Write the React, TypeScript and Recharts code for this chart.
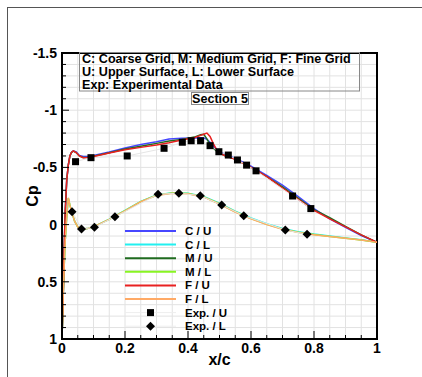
import React from "react";
import { LineChart, Line, XAxis, YAxis, CartesianGrid, ReferenceArea } from "recharts";

// x/c stations
const upperX = [0, 0.004, 0.007, 0.01, 0.015, 0.02, 0.025, 0.03, 0.036, 0.045, 0.055, 0.067, 0.08, 0.1, 0.15, 0.2, 0.25, 0.3, 0.34, 0.38, 0.42, 0.44, 0.45, 0.46, 0.47, 0.48, 0.49, 0.5, 0.52, 0.55, 0.6, 0.65, 0.7, 0.75, 0.8, 0.85, 0.9, 0.95, 1];
const coarseUpper = [1.0, 0.6, 0.22, -0.1, -0.39, -0.52, -0.6, -0.63, -0.645, -0.635, -0.605, -0.595, -0.595, -0.605, -0.635, -0.67, -0.7, -0.725, -0.748, -0.755, -0.758, -0.76, -0.758, -0.745, -0.72, -0.69, -0.66, -0.64, -0.61, -0.58, -0.51, -0.43, -0.345, -0.245, -0.14, -0.05, 0.025, 0.095, 0.155];
const mediumUpper = [1.0, 0.6, 0.22, -0.1, -0.39, -0.52, -0.6, -0.63, -0.643, -0.63, -0.6, -0.587, -0.587, -0.597, -0.628, -0.66, -0.685, -0.71, -0.73, -0.745, -0.765, -0.785, -0.79, -0.75, -0.7, -0.67, -0.645, -0.625, -0.6, -0.572, -0.5, -0.42, -0.33, -0.23, -0.13, -0.06, 0.015, 0.09, 0.155];
const fineUpper = [1.0, 0.6, 0.22, -0.1, -0.39, -0.52, -0.6, -0.63, -0.645, -0.63, -0.6, -0.585, -0.585, -0.595, -0.625, -0.655, -0.675, -0.695, -0.715, -0.74, -0.76, -0.78, -0.79, -0.8, -0.77, -0.71, -0.66, -0.625, -0.6, -0.57, -0.5, -0.42, -0.32, -0.22, -0.125, -0.05, 0.02, 0.09, 0.155];

// x/c stations
const lowerX = [0, 0.005, 0.01, 0.015, 0.02, 0.025, 0.03, 0.04, 0.05, 0.06, 0.08, 0.1, 0.15, 0.2, 0.25, 0.3, 0.35, 0.4, 0.45, 0.5, 0.55, 0.6, 0.65, 0.7, 0.75, 0.8, 0.85, 0.9, 0.95, 1];
const coarseLower = [1.0, 0.5, 0.15, -0.07, -0.23, -0.17, -0.12, -0.03, 0.02, 0.04, 0.035, 0.02, -0.047, -0.123, -0.203, -0.258, -0.278, -0.273, -0.245, -0.187, -0.118, -0.058, -0.007, 0.033, 0.062, 0.083, 0.1, 0.116, 0.132, 0.155];
const mediumLower = [1.0, 0.5, 0.15, -0.07, -0.232, -0.172, -0.12, -0.03, 0.02, 0.04, 0.035, 0.02, -0.045, -0.121, -0.201, -0.256, -0.276, -0.271, -0.242, -0.182, -0.112, -0.052, -0.002, 0.038, 0.066, 0.086, 0.104, 0.119, 0.134, 0.155];
const fineLower = [1.0, 0.5, 0.15, -0.07, -0.235, -0.17, -0.12, -0.03, 0.02, 0.04, 0.035, 0.02, -0.045, -0.12, -0.2, -0.255, -0.275, -0.27, -0.24, -0.18, -0.11, -0.05, 0.0, 0.04, 0.068, 0.088, 0.105, 0.12, 0.135, 0.155];

// experimental data
const expUpperX = [0.043, 0.092, 0.207, 0.324, 0.382, 0.41, 0.44, 0.47, 0.498, 0.528, 0.557, 0.586, 0.616, 0.732, 0.79];
const expUpperCp = [-0.55, -0.585, -0.6, -0.667, -0.72, -0.733, -0.733, -0.69, -0.637, -0.608, -0.565, -0.52, -0.47, -0.25, -0.14];
const expLowerX = [0.032, 0.062, 0.103, 0.168, 0.305, 0.371, 0.439, 0.507, 0.577, 0.709, 0.778];
const expLowerCp = [-0.113, 0.038, 0.024, -0.069, -0.265, -0.274, -0.253, -0.171, -0.078, 0.047, 0.085];

const xTicks = [0, 0.05, 0.1, 0.15, 0.2, 0.25, 0.3, 0.35, 0.4, 0.45, 0.5, 0.55, 0.6, 0.65, 0.7, 0.75, 0.8, 0.85, 0.9, 0.95, 1];
const xTickLabels = ["0", "", "", "", "0.2", "", "", "", "0.4", "", "", "", "0.6", "", "", "", "0.8", "", "", "", "1"];
const yTicks = [-1.5, -1.4, -1.3, -1.2, -1.1, -1, -0.9, -0.8, -0.7, -0.6, -0.5, -0.4, -0.3, -0.2, -0.1, 0, 0.1, 0.2, 0.3, 0.4, 0.5, 0.6, 0.7, 0.8, 0.9, 1];
const yTickLabels = ["-1.5", "", "", "", "", "-1", "", "", "", "", "-0.5", "", "", "", "", "0", "", "", "", "", "0.5", "", "", "", "", "1"];

const noteLines = ["C: Coarse Grid, M: Medium Grid, F: Fine Grid", "U: Upper Surface, L: Lower Surface", "Exp: Experimental Data"];

const toPoints = (xs: number[], ys: number[]) => xs.map((x, i) => ({ x, cp: ys[i] }));

const cfdSeries = [
  { name: "C / U", color: "#4646ff", data: toPoints(upperX, coarseUpper) },
  { name: "C / L", color: "#22f0f0", data: toPoints(lowerX, coarseLower) },
  { name: "M / U", color: "#1f6b1f", data: toPoints(upperX, mediumUpper) },
  { name: "M / L", color: "#88f522", data: toPoints(lowerX, mediumLower) },
  { name: "F / U", color: "#e82020", data: toPoints(upperX, fineUpper) },
  { name: "F / L", color: "#ffaa66", data: toPoints(lowerX, fineLower) },
];

const FONT = "'Liberation Sans', Arial, Helvetica, sans-serif";

const Square = ({ cx, cy }: any) => <rect x={cx - 3.5} y={cy - 3.5} width={7} height={7} fill="#000" />;
const Diamond = ({ cx, cy }: any) => (
  <polygon points={`${cx},${cy - 4.5} ${cx + 4.5},${cy} ${cx},${cy + 4.5} ${cx - 4.5},${cy}`} fill="#000" />
);

const XTick = (props: any) => {
  const { x, y, index } = props;
  const label = xTickLabels[index] ?? "";
  return (
    <g>
      <line x1={x} y1={y} x2={x} y2={y - (label ? 8 : 4)} stroke="#000" />
      {label && (
        <text x={x} y={y + 14} textAnchor="middle" fontFamily={FONT} fontWeight="bold" fontSize={14} fill="#000">
          {label}
        </text>
      )}
    </g>
  );
};

const YTick = (props: any) => {
  const { x, y, index } = props;
  const label = yTickLabels[index] ?? "";
  return (
    <g>
      <line x1={x} y1={y} x2={x + (label ? 7 : 4)} y2={y} stroke="#000" />
      {label && (
        <text x={x - 5} y={y + 5} textAnchor="end" fontFamily={FONT} fontWeight="bold" fontSize={14} fill="#000">
          {label}
        </text>
      )}
    </g>
  );
};

export default function App() {
  const legendTop = 231;
  const rowH = 13.6;
  return (
    <div style={{ position: "absolute", left: 0, top: 0, width: 422, height: 377, background: "#fff", overflow: "hidden" }}>
      <div style={{ position: "absolute", left: 7, top: 7, width: 430, height: 400, borderLeft: "1px solid #555", borderTop: "1px solid #555" }} />
      <div style={{ position: "absolute", left: 0, top: 0 }}>
        <LineChart width={422} height={377} margin={{ top: 53, right: 45, bottom: 8, left: 8 }}>
          <CartesianGrid stroke="#e2e2e2" strokeWidth={1} />
          <XAxis
            type="number"
            dataKey="x"
            domain={[0, 1]}
            ticks={xTicks}
            interval={0}
            height={30}
            tickSize={0}
            tickMargin={0}
            tickLine={false}
            tick={<XTick />}
            axisLine={{ stroke: "#000", strokeWidth: 2 }}
            allowDataOverflow
          />
          <YAxis
            type="number"
            dataKey="cp"
            domain={[-1.5, 1]}
            reversed
            ticks={yTicks}
            interval={0}
            width={54}
            tickSize={0}
            tickMargin={0}
            tickLine={false}
            tick={<YTick />}
            axisLine={{ stroke: "#000", strokeWidth: 2 }}
            allowDataOverflow
          />
          <ReferenceArea x1={0} x2={1} y1={-1.5} y2={1} fill="none" fillOpacity={0} stroke="#000" strokeWidth={2} />
          {cfdSeries.map((s) => (
            <Line
              key={s.name}
              data={s.data}
              dataKey="cp"
              type="linear"
              stroke={s.color}
              strokeWidth={1.5}
              dot={false}
              isAnimationActive={false}
            />
          ))}
          <Line
            data={toPoints(expUpperX, expUpperCp)}
            dataKey="cp"
            stroke="#e6e6e6"
            strokeWidth={1}
            dot={<Square />}
            isAnimationActive={false}
          />
          <Line
            data={toPoints(expLowerX, expLowerCp)}
            dataKey="cp"
            stroke="#e6e6e6"
            strokeWidth={1}
            dot={<Diamond />}
            isAnimationActive={false}
          />
        </LineChart>
      </div>
      <svg width={422} height={377} style={{ position: "absolute", left: 0, top: 0, pointerEvents: "none" }} fontFamily={FONT}>
        <rect x={79.5} y={52.5} width={280} height={38.5} fill="none" stroke="#888" />
        {noteLines.map((t, i) => (
          <text key={t} x={82} y={62.5 + i * 13.2} fontSize={12.6} fontWeight="bold">{t}</text>
        ))}
        <rect x={191.5} y={92.5} width={57} height={12} fill="#fff" stroke="#888" />
        <text x={220} y={103} fontSize={12.6} fontWeight="bold" textAnchor="middle">Section 5</text>

        <text x={219.5} y={365} fontSize={16} fontWeight="bold" textAnchor="middle">x/c</text>
        <text x={38} y={196} fontSize={16} fontWeight="bold" textAnchor="middle" transform="rotate(-90 38 196)">Cp</text>

        {cfdSeries.map((s, i) => (
          <g key={s.name}>
            <line x1={125} x2={176} y1={legendTop + i * rowH} y2={legendTop + i * rowH} stroke={s.color} strokeWidth={2} />
            <text x={185} y={legendTop + i * rowH + 4} fontSize={11.5} fontWeight="bold">{s.name}</text>
          </g>
        ))}
        {["Exp. / U", "Exp. / L"].map((name, j) => {
          const cy = legendTop + (6 + j) * rowH;
          return (
            <g key={name}>
              <line x1={125} x2={176} y1={cy} y2={cy} stroke="#eeeeee" strokeWidth={1} />
              {j === 0 ? <Square cx={150.5} cy={cy} /> : <Diamond cx={150.5} cy={cy} />}
              <text x={185} y={cy + 4} fontSize={11.5} fontWeight="bold">{name}</text>
            </g>
          );
        })}
      </svg>
    </div>
  );
}
